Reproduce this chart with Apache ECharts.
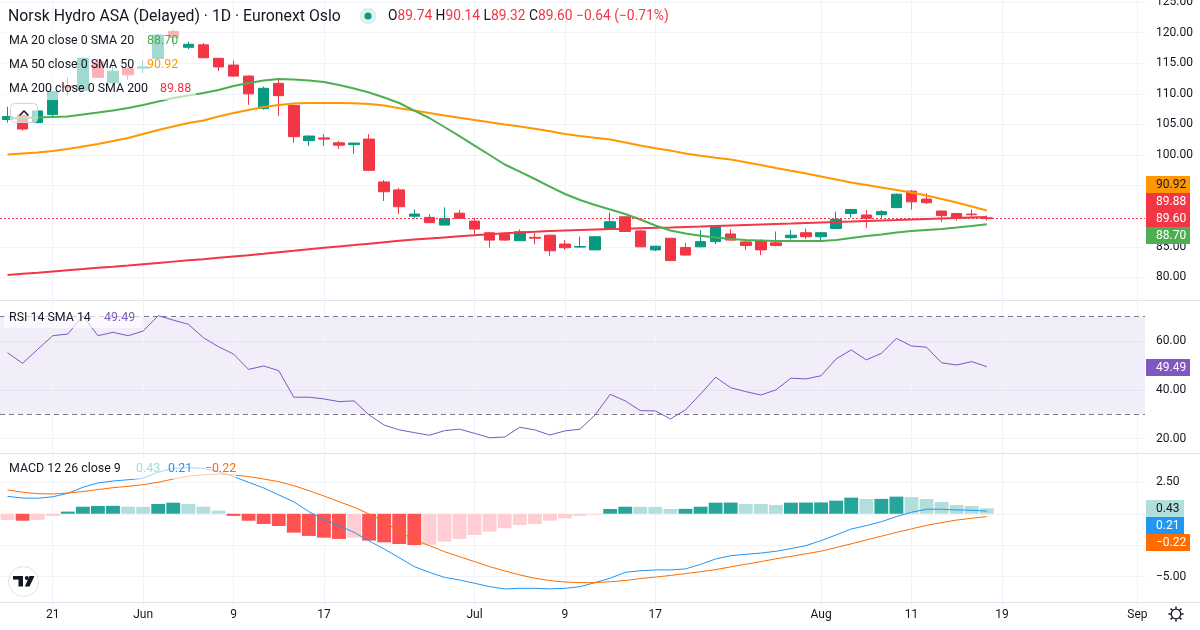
<!DOCTYPE html>
<html>
<head>
<meta charset="utf-8">
<title>Norsk Hydro ASA</title>
<script src="https://cdn.jsdelivr.net/npm/echarts@6/dist/echarts.min.js"></script>
<style>
  html, body { margin: 0; padding: 0; background: #fff; }
  #chart { width: 1200px; height: 630px; }
</style>
</head>
<body>
<div id="chart"></div>
<script>
// trading days (last ones are future slots on the time scale)
const dates = [
  '2025-05-16', '2025-05-19', '2025-05-20', '2025-05-21', '2025-05-22', '2025-05-23', '2025-05-26', '2025-05-27',
  '2025-05-28', '2025-06-02', '2025-06-03', '2025-06-04', '2025-06-05', '2025-06-06', '2025-06-07', '2025-06-09',
  '2025-06-10', '2025-06-11', '2025-06-12', '2025-06-13', '2025-06-16', '2025-06-17', '2025-06-18', '2025-06-19',
  '2025-06-20', '2025-06-23', '2025-06-24', '2025-06-25', '2025-06-26', '2025-06-27', '2025-06-30', '2025-07-01',
  '2025-07-02', '2025-07-03', '2025-07-04', '2025-07-07', '2025-07-08', '2025-07-09', '2025-07-10', '2025-07-11',
  '2025-07-14', '2025-07-15', '2025-07-16', '2025-07-17', '2025-07-18', '2025-07-21', '2025-07-22', '2025-07-23',
  '2025-07-24', '2025-07-25', '2025-07-28', '2025-07-29', '2025-07-30', '2025-07-31', '2025-08-01', '2025-08-04',
  '2025-08-05', '2025-08-06', '2025-08-07', '2025-08-08', '2025-08-11', '2025-08-12', '2025-08-13', '2025-08-14',
  '2025-08-15', '2025-08-18', '2025-08-19', '2025-08-20', '2025-08-21', '2025-08-22', '2025-08-25', '2025-08-26',
  '2025-08-27', '2025-08-28', '2025-08-29', '2025-09-01'
];
const tickDates = ['2025-05-21', '2025-06-02', '2025-06-09', '2025-06-17', '2025-07-01', '2025-07-09',
  '2025-07-17', '2025-08-01', '2025-08-11', '2025-08-19', '2025-09-01'];
const tickLabels = ['21', 'Jun', '9', '17', 'Jul', '9', '17', 'Aug', '11', '19', 'Sep'];

const opens = [105.8, 106.5, 105.3, 106.6, 111.3, 110.6, 115.2, 111.8, 114.2, 114.2, 115.8, 120.2, 117.6, 118.0,
  115.8, 114.7, 112.9, 107.6, 111.7, 108.1, 102.35, 102.8, 102.0, 101.7, 102.6, 95.6, 94.3, 90.0, 89.8, 88.55,
  90.5, 89.2, 87.3, 87.0, 86.0, 86.55, 86.9, 85.45, 84.95, 84.5, 88.0, 89.9, 87.6, 84.5, 86.4, 84.9, 85.0, 85.85,
  87.1, 85.8, 86.0, 85.65, 86.5, 87.3, 86.65, 88.0, 90.45, 90.2, 90.25, 91.4, 94.1, 92.8, 90.85, 90.45, 90.35, 89.74];
const highs = [107.9, 106.6, 107.3, 110.5, 112.7, 116.0, 115.8, 114.7, 114.3, 115.5, 119.8, 120.5, 118.5, 118.3,
  115.9, 115.4, 113.0, 111.2, 112.3, 108.3, 103.2, 103.4, 102.3, 102.0, 103.4, 95.9, 94.6, 91.1, 90.3, 91.45,
  91.0, 89.75, 87.45, 87.3, 87.85, 87.25, 87.0, 86.1, 86.65, 86.8, 90.6, 89.95, 87.7, 85.15, 86.45, 85.65, 87.75,
  88.5, 87.9, 86.1, 86.2, 87.5, 87.75, 88.0, 87.4, 90.75, 91.15, 91.0, 91.0, 93.7, 94.3, 93.75, 90.9, 90.5, 91.1, 90.14];
const lows = [105.3, 104.0, 105.2, 106.3, 109.6, 110.5, 112.6, 111.7, 112.3, 113.4, 115.7, 117.7, 117.3, 115.8,
  113.7, 112.8, 108.2, 107.4, 106.4, 102.0, 101.5, 101.5, 101.0, 100.2, 97.4, 92.5, 90.35, 89.65, 88.9, 88.5,
  89.6, 86.75, 84.85, 86.0, 85.95, 85.45, 83.5, 84.5, 84.85, 84.45, 87.9, 87.45, 84.95, 84.3, 82.7, 83.6, 84.95,
  85.45, 86.0, 84.5, 83.65, 85.1, 86.2, 86.3, 86.1, 87.95, 89.8, 88.1, 89.65, 91.35, 91.1, 92.0, 89.1, 89.3, 89.9, 89.32];
const closes = [106.3, 104.25, 107.2, 110.4, 111.0, 115.8, 112.7, 113.7, 113.1, 114.4, 119.6, 119.2, 118.1, 115.9,
  114.4, 112.9, 110.0, 110.9, 109.7, 103.0, 103.1, 102.6, 101.6, 101.95, 97.5, 94.0, 91.55, 90.35, 88.95, 89.65,
  89.65, 87.9, 86.1, 86.1, 87.45, 86.4, 84.35, 84.85, 85.05, 86.65, 89.1, 87.5, 85.0, 85.1, 82.75, 83.65, 85.85,
  88.4, 86.1, 85.2, 84.5, 85.2, 86.9, 86.65, 87.3, 89.5, 91.1, 89.65, 90.75, 93.6, 92.35, 92.2, 90.1, 89.8, 90.24, 89.60];

const ma20 = [105.96, 106.05, 106.13, 106.21, 106.29, 106.62, 106.94, 107.27, 107.68, 108.17, 108.74, 109.31,
  109.72, 110.13, 110.62, 111.27, 111.76, 112.17, 112.42, 112.34, 112.17, 111.93, 111.44, 110.87, 110.21, 109.40,
  108.50, 107.27, 106.05, 104.58, 103.10, 101.55, 100.00, 98.45, 97.30, 96.08, 94.85, 93.63, 92.65, 91.83, 91.09,
  90.36, 89.46, 88.48, 87.66, 87.17, 86.81, 86.52, 86.27, 86.11, 86.03, 85.95, 85.95, 85.95, 85.95, 86.11, 86.44,
  86.76, 87.01, 87.34, 87.58, 87.75, 87.91, 88.15, 88.40, 88.70];
const ma50 = [100.08, 100.25, 100.41, 100.65, 100.98, 101.39, 101.80, 102.29, 102.78, 103.43, 104.08, 104.66,
  105.23, 105.64, 106.29, 106.86, 107.35, 107.84, 108.17, 108.42, 108.50, 108.50, 108.50, 108.45, 108.33, 108.09,
  107.63, 107.27, 106.86, 106.45, 106.08, 105.72, 105.34, 104.98, 104.66, 104.31, 103.87, 103.43, 103.10, 102.81,
  102.53, 102.03, 101.54, 101.11, 100.72, 100.25, 99.89, 99.54, 99.25, 98.82, 98.37, 97.88, 97.42, 96.98, 96.49,
  96.00, 95.51, 95.10, 94.69, 94.28, 93.87, 93.38, 92.81, 92.24, 91.58, 90.92];
const ma200 = [80.39, 80.59, 80.78, 80.98, 81.18, 81.37, 81.57, 81.75, 81.94, 82.16, 82.37, 82.58, 82.79, 82.97,
  83.20, 83.42, 83.64, 83.87, 84.12, 84.36, 84.61, 84.84, 85.07, 85.29, 85.52, 85.75, 85.98, 86.18, 86.36, 86.54,
  86.72, 86.88, 87.04, 87.21, 87.34, 87.45, 87.57, 87.66, 87.75, 87.83, 87.91, 87.97, 88.04, 88.10, 88.17, 88.25,
  88.33, 88.42, 88.50, 88.58, 88.66, 88.74, 88.81, 88.89, 88.97, 89.05, 89.13, 89.22, 89.30, 89.38, 89.48, 89.56,
  89.64, 89.72, 89.80, 89.88];

const rsi = [55.25, 50.9, 56.6, 62.2, 62.9, 70.3, 62.2, 63.6, 62.2, 64.1, 70.4, 68.6, 66.9, 61.4, 57.7, 54.7, 48.4,
  49.8, 47.9, 37.0, 37.0, 36.3, 35.2, 35.5, 29.7, 25.6, 23.6, 22.5, 21.4, 23.3, 23.9, 22.2, 20.4, 20.7, 24.7, 23.6,
  21.5, 23.2, 23.9, 29.7, 38.2, 35.5, 31.5, 31.4, 28.1, 31.8, 38.3, 45.2, 40.9, 39.3, 37.9, 40.0, 44.8, 44.5, 45.8,
  52.7, 56.4, 52.3, 55.0, 61.1, 58.0, 57.5, 51.1, 50.2, 51.6, 49.49];

const macdHist = [-0.5, -0.55, -0.49, -0.17, 0.17, 0.56, 0.62, 0.63, 0.56, 0.55, 0.78, 0.88, 0.78, 0.56, 0.25,
  -0.17, -0.55, -0.81, -0.97, -1.5, -1.76, -1.9, -2.0, -1.9, -2.13, -2.27, -2.4, -2.48, -2.45, -2.21, -2.0, -1.68,
  -1.42, -1.15, -0.89, -0.81, -0.55, -0.36, -0.17, -0.07, 0.38, 0.56, 0.55, 0.54, 0.38, 0.39, 0.56, 0.88, 0.89,
  0.78, 0.77, 0.70, 0.88, 0.89, 0.90, 1.04, 1.28, 1.17, 1.18, 1.36, 1.33, 1.17, 0.94, 0.70, 0.62, 0.43];
const macdLine = [1.38, 1.25, 1.23, 1.35, 1.62, 2.1, 2.45, 2.6, 2.7, 2.82, 3.3, 3.6, 3.66, 3.6, 3.35, 2.95, 2.5,
  2.05, 1.5, 0.95, 0.17, -0.49, -0.94, -1.47, -2.16, -2.8, -3.49, -4.2, -4.65, -5.05, -5.26, -5.52, -5.79, -5.97,
  -5.92, -5.92, -5.97, -5.92, -5.79, -5.47, -5.12, -4.65, -4.53, -4.46, -4.46, -4.38, -4.02, -3.59, -3.33, -3.22,
  -3.12, -2.98, -2.77, -2.53, -2.13, -1.68, -1.21, -0.94, -0.63, -0.23, 0.12, 0.36, 0.36, 0.3, 0.28, 0.21];
const signalLine = [1.89, 1.71, 1.6, 1.57, 1.65, 1.76, 1.92, 2.07, 2.18, 2.31, 2.5, 2.76, 2.98, 3.1, 3.16, 3.08,
  2.95, 2.76, 2.55, 2.23, 1.84, 1.41, 0.96, 0.52, -0.02, -0.63, -1.42, -2.08, -2.53, -3.01, -3.41, -3.8, -4.2,
  -4.54, -4.86, -5.12, -5.31, -5.42, -5.47, -5.47, -5.4, -5.3, -5.15, -5.03, -4.9, -4.75, -4.6, -4.44, -4.22,
  -4.01, -3.8, -3.58, -3.38, -3.18, -2.97, -2.68, -2.39, -2.08, -1.78, -1.48, -1.2, -0.92, -0.7, -0.5, -0.36, -0.22];

const priceTicks = [80, 85, 90, 95, 100, 105, 110, 115, 120, 125];
const rsiTicks = [20, 40, 60];
const macdTicks = [2.5, -5];

const FONT = 'Roboto, "Noto Sans", sans-serif';
const TEXT = '#131722';
const GRID = '#F0F3FA';
const UP = '#089981';
const DOWN = '#F23645';
const C20 = '#4CAF50', C50 = '#FF9800', C200 = '#F23645', CRSI = '#7E57C2';
const CMACD = '#2196F3', CSIG = '#FF6D00';

const last = closes.length - 1;
const fmt = v => (v < 0 ? '\u2212' : '') + Math.abs(v).toFixed(2);

const candleData = opens.map((o, i) => [o, closes[i], lows[i], highs[i]]);
const histData = macdHist.map((v, i) => {
  const prev = i > 0 ? macdHist[i - 1] : v;
  let c;
  if (v >= 0) c = v > prev ? '#26A69A' : '#B2DFDB';
  else c = v < prev ? '#FF5252' : '#FFCDD2';
  return { value: v, itemStyle: { color: c } };
});
const vLines = tickDates.map(d => ({ xAxis: d }));
const gridMark = {
  silent: true, symbol: ['none', 'none'], z: 1, animation: false,
  label: { show: false }, lineStyle: { color: GRID, width: 1, type: 'solid' },
  data: vLines
};

function xAx(idx, labels) {
  return {
    type: 'category', gridIndex: idx, data: dates, boundaryGap: true,
    axisLine: { show: false }, axisTick: { show: false }, splitLine: { show: false },
    axisLabel: labels ? {
      interval: (i, v) => tickDates.includes(v),
      formatter: v => tickLabels[tickDates.indexOf(v)],
      color: TEXT, fontSize: 12, fontFamily: FONT, margin: 1
    } : { show: false }
  };
}
function yAx(idx, extra, ticks) {
  return Object.assign({
    type: 'value', gridIndex: idx, position: 'right', scale: true,
    axisLine: { show: false }, axisTick: { show: false },
    splitLine: { lineStyle: { color: GRID }, showMinLine: false, showMaxLine: false },
    axisLabel: {
      margin: 11, color: TEXT, fontSize: 12, fontFamily: FONT,
      formatter: v => ticks.some(t => Math.abs(t - v) < 1e-6) ? fmt(v) : ''
    }
  }, extra);
}

// overlay: header, legends, value tags
const g = [];
function txt(x, y, text, color, size, extra) {
  return Object.assign({
    type: 'text', x: x, y: y, z: 102,
    style: { text: text, fill: color, font: (size || 12.4) + 'px ' + FONT, verticalAlign: 'middle' }
  }, extra || {});
}
function shade(x, y, w, h) {
  g.push({ type: 'rect', z: 100, shape: { x: x, y: y, width: w, height: h },
    style: { fill: 'rgba(255,255,255,0.62)' } });
}
function tag(y, w, bg, fg, text) {
  g.push({ type: 'rect', z: 110, shape: { x: 1146, y: y, width: w, height: 17 }, style: { fill: bg } });
  g.push(txt(1156, y + 9, text, fg, 12, { z: 111 }));
}

[300, 453, 602].forEach(y => g.push({ type: 'line', z: 90,
  shape: { x1: 0, y1: y + 0.5, x2: 1200, y2: y + 0.5 }, style: { stroke: '#E0E3EB', lineWidth: 1 } }));

g.push(txt(8, 17, 'Norsk Hydro ASA (Delayed) \u00b7 1D \u00b7 Euronext Oslo', TEXT, 15.8));
g.push({ type: 'circle', z: 102, shape: { cx: 368, cy: 16, r: 8.5 }, style: { fill: 'rgba(8,153,129,0.14)' } });
g.push({ type: 'circle', z: 103, shape: { cx: 368, cy: 16, r: 3.5 }, style: { fill: UP } });
const chg = closes[last] - closes[last - 1];
const f14 = '13.8px ' + FONT;
g.push({
  type: 'text', x: 388, y: 17, z: 102,
  style: {
    text: '{l|O}{v|' + opens[last].toFixed(2) + '} {l|H}{v|' + highs[last].toFixed(2) + '} {l|L}{v|' +
      lows[last].toFixed(2) + '} {l|C}{v|' + closes[last].toFixed(2) + '} {v|' + fmt(chg) + ' (' +
      fmt(chg / closes[last - 1] * 100) + '%)}',
    font: f14, verticalAlign: 'middle',
    rich: { l: { fill: TEXT, font: f14 }, v: { fill: DOWN, font: f14 } }
  }
});

shade(4, 28, 178, 24); shade(4, 52, 178, 24); shade(4, 76, 192, 24);
g.push(txt(9, 41, 'MA 20 close 0 SMA 20', TEXT)); g.push(txt(147, 41, ma20[last].toFixed(2), C20));
g.push(txt(9, 65, 'MA 50 close 0 SMA 50', TEXT)); g.push(txt(147, 65, ma50[last].toFixed(2), C50));
g.push(txt(9, 89, 'MA 200 close 0 SMA 200', TEXT)); g.push(txt(160, 89, ma200[last].toFixed(2), C200));
g.push({ type: 'rect', z: 100, shape: { x: 10.5, y: 103.5, width: 27, height: 19, r: 4 },
  style: { fill: 'rgba(255,255,255,0.62)', stroke: '#D1D4DC', lineWidth: 1 } });
g.push({ type: 'polyline', z: 102, shape: { points: [[19.5, 115.5], [24, 111], [28.5, 115.5]] },
  style: { stroke: TEXT, lineWidth: 1.5, fill: null } });

shade(4, 307, 138, 21);
g.push(txt(9, 318, 'RSI 14 SMA 14', TEXT)); g.push(txt(104, 318, rsi[last].toFixed(2), CRSI));

shade(4, 458, 232, 21);
g.push(txt(9, 469, 'MACD 12 26 close 9', TEXT));
g.push(txt(136, 469, fmt(macdHist[last]), '#A6DCD3'));
g.push(txt(168, 469, fmt(macdLine[last]), CMACD));
g.push(txt(205, 469, fmt(signalLine[last]), CSIG));

tag(176, 44, C50, TEXT, ma50[last].toFixed(2));
tag(193, 44, C200, '#fff', ma200[last].toFixed(2));
tag(210, 44, DOWN, '#fff', closes[last].toFixed(2));
tag(227, 44, C20, '#fff', ma20[last].toFixed(2));
tag(359, 44, CRSI, '#fff', rsi[last].toFixed(2));
tag(500, 38, '#B2DFDB', TEXT, fmt(macdHist[last]));
tag(517, 38, CMACD, '#fff', fmt(macdLine[last]));
tag(534, 44, CSIG, '#fff', fmt(signalLine[last]));

// TradingView badge
g.push({ type: 'circle', z: 102, shape: { cx: 23.5, cy: 581.5, r: 15 },
  style: { fill: '#fff', stroke: '#E0E3EB', lineWidth: 1 } });
g.push({ type: 'rect', z: 103, shape: { x: 13, y: 576, width: 10, height: 3.6 }, style: { fill: TEXT } });
g.push({ type: 'rect', z: 103, shape: { x: 18.5, y: 576, width: 4.5, height: 10.5 }, style: { fill: TEXT } });
g.push({ type: 'circle', z: 103, shape: { cx: 26.8, cy: 578, r: 2 }, style: { fill: TEXT } });
g.push({ type: 'polygon', z: 103, shape: { points: [[29.5, 576], [34.5, 576], [29.5, 586.5], [24.8, 586.5]] },
  style: { fill: TEXT } });

// settings gear
g.push({ type: 'circle', z: 102, shape: { cx: 1176, cy: 614, r: 4.8 },
  style: { fill: null, stroke: TEXT, lineWidth: 1.3 } });
for (let k = 0; k < 8; k++) {
  const a = k * Math.PI / 4;
  g.push({ type: 'line', z: 102, shape: {
    x1: 1176 + Math.cos(a) * 5.2, y1: 614 + Math.sin(a) * 5.2,
    x2: 1176 + Math.cos(a) * 7.6, y2: 614 + Math.sin(a) * 7.6 },
    style: { stroke: TEXT, lineWidth: 1.5 } });
}

const chart = echarts.init(document.getElementById('chart'));
chart.setOption({
  animation: false,
  backgroundColor: '#fff',
  grid: [
    { left: 0, right: 55, top: 0, height: 300, outerBoundsMode: 'none' },
    { left: 0, right: 55, top: 300, height: 153, outerBoundsMode: 'none' },
    { left: 0, right: 55, top: 450.8, height: 157.4, outerBoundsMode: 'none' }
  ],
  xAxis: [xAx(0, false), xAx(1, false), xAx(2, true)],
  yAxis: [
    yAx(0, { min: 76.31, max: 125.33, splitNumber: 10 }, priceTicks),
    yAx(1, { min: 14.14, max: 76.84, splitNumber: 3 }, rsiTicks),
    yAx(2, { min: -7.5, max: 5, interval: 2.5 }, macdTicks)
  ],
  series: [
    {
      type: 'candlestick', xAxisIndex: 0, yAxisIndex: 0, data: candleData, barWidth: 11,
      itemStyle: { color: UP, color0: DOWN, borderColor: UP, borderColor0: DOWN, borderWidth: 1 },
      markLine: {
        silent: true, symbol: ['none', 'none'], label: { show: false },
        lineStyle: { color: DOWN, width: 1, type: [2, 2] },
        data: [{ yAxis: closes[last] }]
      }
    },
    { type: 'line', xAxisIndex: 0, yAxisIndex: 0, data: ma200, showSymbol: false, z: 3,
      lineStyle: { color: C200, width: 2 }, markLine: gridMark },
    { type: 'line', xAxisIndex: 0, yAxisIndex: 0, data: ma50, showSymbol: false, z: 3,
      lineStyle: { color: C50, width: 2 } },
    { type: 'line', xAxisIndex: 0, yAxisIndex: 0, data: ma20, showSymbol: false, z: 3,
      lineStyle: { color: C20, width: 2 } },
    {
      type: 'line', xAxisIndex: 1, yAxisIndex: 1, data: rsi, showSymbol: false, z: 3,
      lineStyle: { color: CRSI, width: 1 },
      markArea: { silent: true, itemStyle: { color: 'rgba(126,87,194,0.1)' }, data: [[{ yAxis: 30 }, { yAxis: 70 }]] },
      markLine: {
        silent: true, symbol: ['none', 'none'], z: 1, label: { show: false },
        lineStyle: { color: GRID, width: 1, type: 'solid' },
        data: vLines.concat([
          { yAxis: 70, lineStyle: { color: '#787B86', type: [5, 4], width: 1 } },
          { yAxis: 30, lineStyle: { color: '#787B86', type: [5, 4], width: 1 } }
        ])
      }
    },
    { type: 'bar', xAxisIndex: 2, yAxisIndex: 2, data: histData, barCategoryGap: '8%', markLine: gridMark },
    { type: 'line', xAxisIndex: 2, yAxisIndex: 2, data: macdLine, showSymbol: false, z: 3,
      lineStyle: { color: CMACD, width: 1 } },
    { type: 'line', xAxisIndex: 2, yAxisIndex: 2, data: signalLine, showSymbol: false, z: 3,
      lineStyle: { color: CSIG, width: 1 } }
  ],
  graphic: g
});
</script>
</body>
</html>
